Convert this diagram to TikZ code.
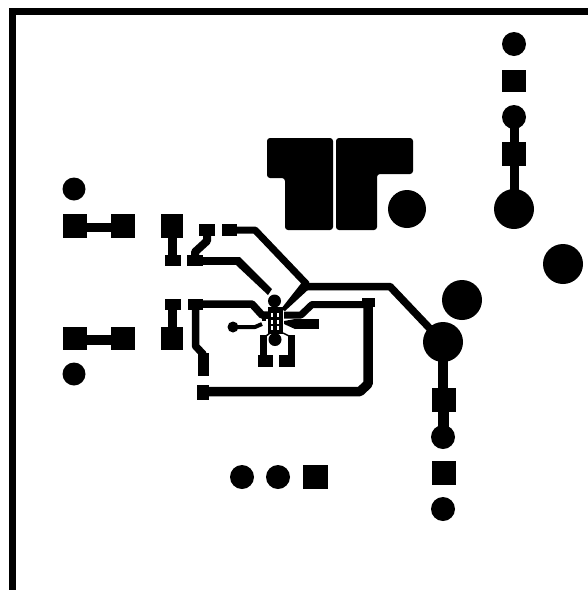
\documentclass[tikz,border=0pt]{standalone}
\tikzset{
  cu/.style={fill=black,draw=none},
  tr/.style={draw=black,line cap=butt,line join=round},
}
\newcommand{\pad}[4]{\fill[cu] (#1,#3) rectangle (#2,#4);}
\newcommand{\via}[3]{\fill[cu] (#1,#2) circle (#3);}
\begin{document}
\begin{tikzpicture}[x=1pt,y=-1pt]
\useasboundingbox (0,0) rectangle (588,590);
\fill[white] (0,0) rectangle (588,590);
% board outline
\draw[black,line width=7.5pt,line join=miter] (12.5,590) -- (12.5,11.5) -- (588,11.5);
% large pads
\fill[cu,rounded corners=3pt] (267,138) -- (333,138) -- (333,230) -- (285,230) -- (285,178) -- (267,178) -- cycle;
\fill[cu,rounded corners=3pt] (336,138) -- (413,138) -- (413,174) -- (377,174) -- (377,230) -- (336,230) -- cycle;
\via{407}{209}{19}
% right column top
\via{514}{44}{12}
\pad{502}{526}{70}{92}
\via{514}{117}{12}
\pad{502}{526}{142}{166}
\via{514}{209}{20}
\draw[tr,line width=9.5pt] (514.5,117) -- (514.5,209);
\via{563}{264}{20}
\via{462}{300}{20}
% right column lower
\via{443}{342}{20}
\draw[tr,line width=10pt] (443,342) -- (443,388);
\draw[tr,line width=11pt] (443.5,412) -- (443.5,437);
\pad{432}{456}{388}{412}
\via{443}{437}{12}
\pad{432}{456}{461}{485}
\via{443}{509}{12}
% bottom row
\via{242}{477}{12}
\via{278}{477}{12}
\pad{303}{328}{465}{489}
% left headers
\via{74}{189}{11.5}
\pad{63}{87}{214}{238}
\pad{111}{135}{214}{238}
\draw[tr,line width=9pt] (87,227.5) -- (111,227.5);
\pad{63}{87}{327}{350}
\pad{111}{135}{327}{350}
\draw[tr,line width=10pt] (87,340) -- (111,340);
\via{74}{374}{11.5}
% left resistors
\pad{161}{183}{214}{238}
\pad{165}{181}{255}{266}
\draw[tr,line width=9pt] (172.5,238) -- (172.5,255);
\pad{165}{181}{299}{310}
\pad{161}{183}{327}{350}
\draw[tr,line width=9pt] (172.5,310) -- (172.5,327);
% top pads
\pad{199}{215}{224}{236}
\pad{222}{237}{224}{236}
\pad{187}{203}{255}{266}
\draw[tr,line width=8pt] (207,232) -- (207,241) -- (195,252) -- (195,260);
\draw[tr,line width=8pt] (200,261) -- (238,261);
\fill[cu] (236,257) -- (240,257) -- (272,289) -- (268,295) -- (236,265) -- cycle;
\draw[tr,line width=7pt] (237,230) -- (255,230) -- (307,284.5);
\draw[tr,line width=7.5pt] (305,286.5) -- (390,286.5) -- (436,335);
% tapered trace into the chip
\fill[cu] (303,281) -- (310,288) -- (285,311) -- (281,309) -- cycle;
% left-hand loop
\pad{188}{203}{299}{310}
\draw[tr,line width=7.5pt] (196,304) -- (252,304) -- (262,315) -- (270,315);
\draw[tr,line width=7.5pt] (195.5,304) -- (195.5,346) -- (203,354) -- (203,365);
\pad{198}{209}{353}{376}
\pad{197}{209}{385}{400}
\draw[tr,line width=9.5pt] (205,391.5) -- (360,391.5) -- (368,384) -- (368,303);
\pad{362}{375}{298}{307}
\draw[tr,line width=7pt] (368,304.5) -- (312,304.5) -- (301,315) -- (284,315);
% chip fan-out
\via{233}{327}{5.5}
\draw[tr,line width=4pt] (233,327) -- (255,327) -- (262,324);
\draw[tr,line width=2.5pt] (262,320) -- (266,320);
\pad{295}{319}{319}{329}
\fill[cu] (295,319) -- (295,329) -- (284,324) -- (284,321) -- cycle;
\pad{258}{273}{355}{367}
\pad{279}{295}{355}{367}
\draw[tr,line width=7pt] (263.5,360) -- (263.5,335);
\draw[tr,line width=7pt] (291.5,360) -- (291.5,335);
\draw[tr,line width=1.5pt] (266,336) -- (270,333);
\draw[tr,line width=1.5pt] (289,336) -- (283,333);
% chip body
\fill[cu] (267.5,307) rectangle (282.5,334);
\via{274.5}{301}{6.5}
\via{275}{339.5}{6.5}
\foreach \cx in {272,278}{
  \foreach \cy in {315,322,328}{
    \fill[white] (\cx-1.4,\cy-1.8) rectangle (\cx+1.4,\cy+1.8);
  }
}
\end{tikzpicture}
\end{document}
